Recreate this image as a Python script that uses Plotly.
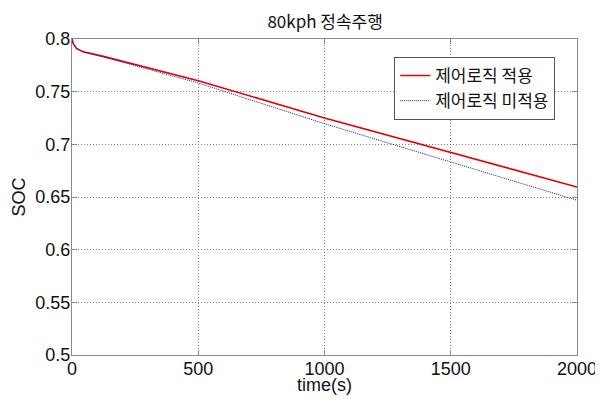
import plotly.graph_objects as go

# Data
time_red = [0, 5, 18, 45, 124, 256, 381, 500, 1000, 1500, 2000]
soc_red = [0.8, 0.7955, 0.791, 0.7878, 0.7835, 0.7755, 0.7683, 0.7604, 0.725, 0.6921, 0.6595]

time_blue = [0, 5, 18, 45, 124, 256, 381, 500, 1000, 1500, 2000]
soc_blue = [0.8, 0.7953, 0.7907, 0.7875, 0.783, 0.7743, 0.7667, 0.7582, 0.7196, 0.6832, 0.6469]

x_ticks = [0, 500, 1000, 1500, 2000]
x_tick_text = ["0", "500", "1000", "1500", "2000"]
y_ticks = [0.5, 0.55, 0.6, 0.65, 0.7, 0.75, 0.8]
y_tick_text = ["0.5", "0.55", "0.6", "0.65", "0.7", "0.75", "0.8"]

name_red = "제어로직 적용"
name_blue = "제어로직 미적용"
title_text = "80kph 정속주행"
x_title = "time(s)"
y_title = "SOC"

FONT = "Liberation Sans, Arial, sans-serif"
KFONT = "Noto Sans CJK KR, Liberation Sans, sans-serif"

fig = go.Figure()
fig.add_trace(go.Scatter(x=time_red, y=soc_red, mode="lines", name=name_red,
                         line=dict(color="#e60000", width=1.6)))
fig.add_trace(go.Scatter(x=time_blue, y=soc_blue, mode="lines", name=name_blue,
                         line=dict(color="#1c1ca8", width=1, dash="1px,1px")))

axis_common = dict(
    showline=True, mirror="ticks", linecolor="#8a8a8a", linewidth=1,
    showgrid=True, gridcolor="#808080", gridwidth=1, griddash="1px,2px",
    ticks="inside", ticklen=5, tickcolor="#8a8a8a",
    zeroline=False, automargin=False, ticklabelstandoff=-3,
    tickfont=dict(family=FONT, size=18, color="#111"),
)

# The page body has an 8px margin, so the figure is sized to fit within 603x401
fig.update_layout(
    width=595, height=393,
    margin=dict(l=64, r=26, t=31, b=46),
    paper_bgcolor="white", plot_bgcolor="white",
    title=dict(text=title_text, x=0.533, xanchor="center", y=0.965, yanchor="middle",
               font=dict(family=KFONT, size=17, color="#111")),
    xaxis=dict(range=[0, 2000], tickvals=x_ticks, ticktext=x_tick_text, **axis_common),
    yaxis=dict(range=[0.5, 0.8], tickvals=y_ticks, ticktext=y_tick_text,
               title=dict(text=y_title, standoff=5, font=dict(family=FONT, size=18, color="#111")),
               **axis_common),
    legend=dict(x=0.638, y=0.943, xanchor="left", yanchor="top",
                bgcolor="white", bordercolor="#555", borderwidth=1,
                font=dict(family=KFONT, size=17, color="#111"),
                itemwidth=30, tracegroupgap=0),
    showlegend=True,
    annotations=[dict(text=x_title, xref="paper", yref="paper", x=0.5, y=0,
                      xanchor="center", yanchor="top", yshift=-18, showarrow=False,
                      font=dict(family=FONT, size=18, color="#111"))],
)

fig.write_html("out.html")
